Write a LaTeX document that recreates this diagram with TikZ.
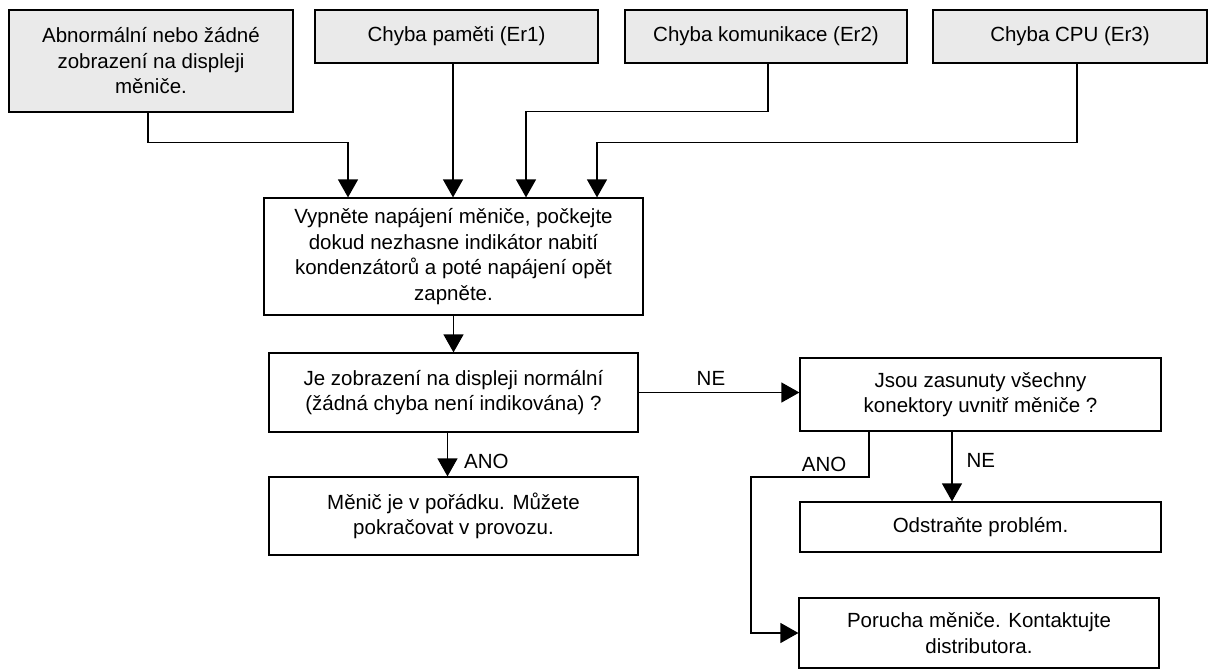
\documentclass[tikz,border=0pt]{standalone}
\usepackage{fontspec}
\setmainfont{Liberation Sans}
\usetikzlibrary{arrows.meta}
\definecolor{boxgray}{RGB}{234,234,234}

\begin{document}
\begin{tikzpicture}[
  x=1pt, y=-1pt,
  font=\fontsize{20.5}{25.5}\selectfont,
  block/.style={draw, align=center, inner sep=0pt, line width=1.2pt},
  errblock/.style={block, fill=boxgray, minimum width=283pt, minimum height=53pt},
  arrow/.style={-{Triangle[length=18pt,width=20pt]}, line width=1.2pt}
]
\useasboundingbox (0,0) rectangle (1208,670);

% error sources
\node[errblock, minimum width=284pt, minimum height=102pt] (abn) at (151,61) {Abnormální nebo žádné\\zobrazení na displeji\\měniče.};
\node[errblock] (er1) at (456.5,36.5) {Chyba paměti (Er1)};
\node[errblock, minimum width=282pt] (er2) at (766,36.5) {Chyba komunikace (Er2)};
\node[errblock, minimum width=274pt] (er3) at (1070,36.5) {Chyba CPU (Er3)};

% main path
\node[block, minimum width=379pt, minimum height=117pt] (reset) at (453.5,256.5) {Vypněte napájení měniče, počkejte\\dokud nezhasne indikátor nabití\\kondenzátorů a poté napájení opět\\zapněte.};
\node[block, minimum width=369pt, minimum height=79pt] (check) at (453.5,392.5) {Je zobrazení na displeji normální\\(žádná chyba není indikována) ?};
\node[block, minimum width=369pt, minimum height=78pt] (ok) at (453.5,516) {Měnič je v pořádku. Můžete\\pokračovat v provozu.};

% connector check
\node[block, minimum width=361pt, minimum height=73pt] (conn) at (980.5,394.5) {Jsou zasunuty všechny\\konektory uvnitř měniče ?};
\node[block, minimum width=361pt, minimum height=50pt] (fix) at (980.5,527) {Odstraňte problém.};
\node[block, minimum width=360pt, minimum height=70pt] (fault) at (979,633) {Porucha měniče. Kontaktujte\\distributora.};
\coordinate (anoturn) at (751,477);

\draw[arrow] ([xshift=-3]abn.south) -- ++(0,30) -| ([xshift=-105.5]reset.north);
\draw[arrow] ([xshift=-3.5]er1.south) -- ([xshift=-0.5]reset.north);
\draw[arrow] ([xshift=2]er2.south) -- ++(0,48) -| ([xshift=72.5]reset.north);
\draw[arrow] ([xshift=7]er3.south) -- ++(0,79) -| ([xshift=143.5]reset.north);
\draw[arrow] (reset.south) -- (check.north);
\draw[arrow] ([xshift=-6]check.south) -- node[right, pos=0.66, inner sep=0pt, xshift=16pt] {ANO} ([xshift=-6]ok.north);
\draw[arrow] (check.east) -- node[above, pos=0.45, inner sep=6pt] {NE} (check.east -| conn.west);
\draw[arrow] ([xshift=-28.5]conn.south) -- node[right, pos=0.41, inner sep=0pt, xshift=14pt] {NE} ([xshift=-28.5]fix.north);
\draw[arrow] ([xshift=-111.5]conn.south) |- node[above, pos=0.69, inner sep=5pt] {ANO} (anoturn) |- (fault.west);
\end{tikzpicture}
\end{document}
